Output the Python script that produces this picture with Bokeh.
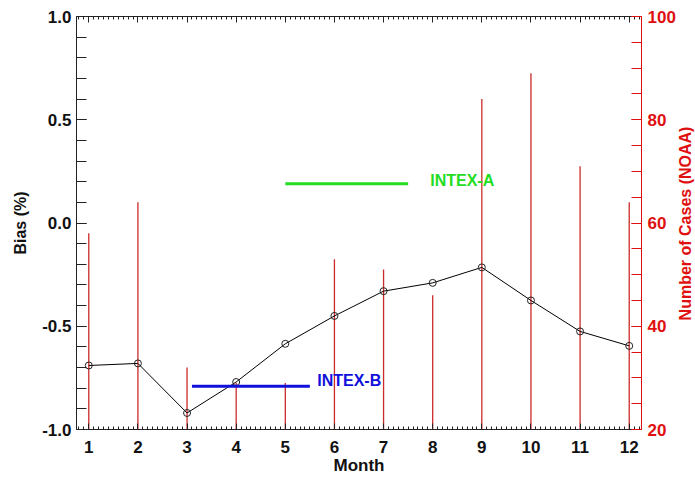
import math
from bokeh.plotting import figure
from bokeh.models import Range1d, LinearAxis, FixedTicker, PrintfTickFormatter, Label
from bokeh.embed import file_html
from bokeh.resources import INLINE

# ---- data ----
months = [1, 2, 3, 4, 5, 6, 7, 8, 9, 10, 11, 12]
bias = [-0.69, -0.68, -0.92, -0.77, -0.585, -0.45, -0.33, -0.29, -0.215, -0.375, -0.525, -0.595]
cases = [58, 64, 32, 29, 29, 53, 51, 46, 84, 89, 71, 64]
intex_a_x = [5.0, 7.5]
intex_a_y = [0.19, 0.19]
intex_b_x = [3.1, 5.5]
intex_b_y = [-0.79, -0.79]
intex_a_label = ("INTEX-A", 7.95, 0.205)
intex_b_label = ("INTEX-B", 5.65, -0.765)
bias_ticks = [-1.0, -0.5, 0.0, 0.5, 1.0]
case_ticks = [20, 40, 60, 80, 100]

FONT = "Liberation Sans"
RED = "#e01010"
BAR_RED = "#cc2a2a"

p = figure(width=695, height=477, x_range=Range1d(0.75, 12.25), y_range=Range1d(-1.0, 1.0),
           output_backend="svg", toolbar_location=None,
           min_border_left=76, min_border_right=53, min_border_top=16, min_border_bottom=0)
p.outline_line_color = None
p.xgrid.grid_line_color = None
p.ygrid.grid_line_color = None
p.background_fill_color = "white"

p.extra_y_ranges = {"cases": Range1d(20, 100)}

x_all = [round(0.8 + 0.1 * i, 1) for i in range(115)]
x_all = [v for v in x_all if v <= 12.25]
x_minor = [v for v in x_all if abs(v - round(v)) > 1e-6]
y_minor = [round(-1.0 + 0.1 * i, 1) for i in range(21)]
c_minor = list(range(20, 101, 5))

def base_x(ax):
    ax.axis_line_color = "#222222"
    ax.major_tick_line_color = "#222222"
    ax.minor_tick_line_color = "#222222"
    ax.major_tick_in = 6
    ax.major_tick_out = 0
    ax.minor_tick_in = 3
    ax.minor_tick_out = 0

xa = p.xaxis[0]
base_x(xa)
xa.ticker = FixedTicker(ticks=months, minor_ticks=x_minor)
xa.major_label_text_font = FONT
xa.major_label_text_font_style = "bold"
xa.major_label_text_color = "#111111"
xa.major_label_text_font_size = "17px"
xa.major_label_standoff = 11
xa.axis_label = "Month"
xa.axis_label_text_font = FONT
xa.axis_label_text_font_style = "bold"
xa.axis_label_text_font_size = "17px"
xa.axis_label_text_color = "#111111"
xa.axis_label_standoff = 0

# top frame axis: minor ticks every 0.1, longer ticks at whole months, no labels
top = LinearAxis()
base_x(top)
top.ticker = FixedTicker(ticks=[], minor_ticks=x_all)
top.minor_tick_in = 3
p.add_layout(top, "above")
top2 = LinearAxis()
base_x(top2)
top2.axis_line_color = None
top2.ticker = FixedTicker(ticks=[], minor_ticks=months)
top2.minor_tick_in = 6
p.add_layout(top2, "above")

ya = p.yaxis[0]
ya.ticker = FixedTicker(ticks=bias_ticks, minor_ticks=y_minor)
ya.formatter = PrintfTickFormatter(format="%.1f")
ya.axis_line_color = "#222222"
ya.major_tick_line_color = "#222222"
ya.minor_tick_line_color = "#222222"
ya.major_tick_in = 10
ya.major_tick_out = 0
ya.minor_tick_in = 10
ya.minor_tick_out = 0
ya.major_label_text_font = FONT
ya.major_label_text_font_style = "bold"
ya.major_label_text_font_size = "17px"
ya.major_label_text_color = "#111111"
ya.major_label_standoff = 5
ya.axis_label = "Bias (%)"
ya.axis_label_text_font = FONT
ya.axis_label_text_font_style = "bold"
ya.axis_label_text_font_size = "16px"
ya.axis_label_text_color = "#111111"
ya.axis_label_standoff = 10

ra = LinearAxis(y_range_name="cases")
ra.ticker = FixedTicker(ticks=case_ticks, minor_ticks=c_minor)
ra.axis_line_color = RED
ra.major_tick_line_color = RED
ra.minor_tick_line_color = RED
ra.major_tick_in = 10
ra.major_tick_out = 0
ra.minor_tick_in = 10
ra.minor_tick_out = 0
ra.major_label_text_font = FONT
ra.major_label_text_font_style = "bold"
ra.major_label_text_font_size = "17px"
ra.major_label_text_color = RED
ra.major_label_standoff = 6
p.add_layout(ra, "right")

# right axis title, reading bottom-to-top, placed in the right side panel
p.add_layout(Label(x=7, y=206, x_units="screen", y_units="screen", text="Number of Cases (NOAA)",
                   angle=math.pi / 2, text_align="center", text_baseline="middle", text_color=RED,
                   text_font=FONT, text_font_style="bold", text_font_size="16px"), "right")

# bars (number of cases)
p.segment(x0=months, y0=[20] * len(months), x1=months, y1=cases, y_range_name="cases",
          line_color=BAR_RED, line_width=1.3)

# bias line
p.line(months, bias, line_color="black", line_width=1)
p.scatter(months, bias, marker="circle", size=7, fill_color=None, line_color="#222222", line_width=1)

# INTEX periods
p.line(intex_a_x, intex_a_y, line_color="#22dd22", line_width=3)
p.line(intex_b_x, intex_b_y, line_color="#1010dd", line_width=3)
p.add_layout(Label(x=intex_a_label[1], y=intex_a_label[2], text=intex_a_label[0], text_color="#22dd22",
                   text_font=FONT, text_font_style="bold", text_font_size="16px", text_baseline="middle"))
p.add_layout(Label(x=intex_b_label[1], y=intex_b_label[2], text=intex_b_label[0], text_color="#1010dd",
                   text_font=FONT, text_font_style="bold", text_font_size="16px", text_baseline="middle"))

open("out.html", "w").write(file_html(p, INLINE))
